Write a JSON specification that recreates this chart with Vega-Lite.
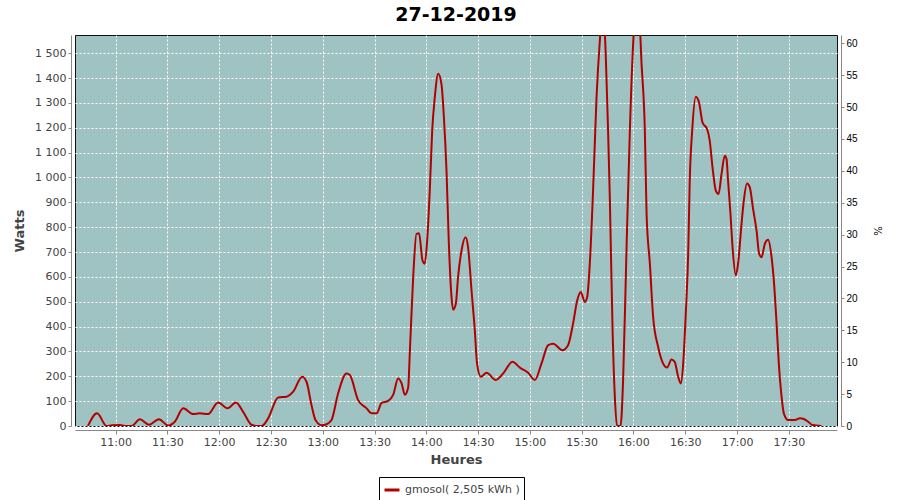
{
  "$schema": "https://vega.github.io/schema/vega-lite/v6.json",
  "width": 762,
  "height": 391,
  "autosize": {"type": "none"},
  "padding": {"left": 75, "top": 35, "right": 63, "bottom": 74},
  "background": "#ffffff",
  "title": {
    "text": "27-12-2019",
    "font": "DejaVu Sans",
    "fontSize": 19,
    "fontWeight": "bold",
    "color": "#000000",
    "anchor": "middle",
    "frame": "group",
    "offset": 7
  },
  "config": {
    "view": {"fill": "#9fc3c2", "stroke": "#111111", "strokeWidth": 1},
    "axis": {
      "labelFont": "DejaVu Sans",
      "titleFont": "DejaVu Sans",
      "labelColor": "#444444",
      "titleColor": "#444444",
      "domainColor": "#888888",
      "tickColor": "#888888",
      "gridColor": "#ffffff",
      "gridDash": [2, 2],
      "gridOpacity": 1,
      "gridWidth": 1
    }
  },
  "layer": [
    {
      "data": {
        "values": [
          {"t": "2019-12-27T10:44:00", "w": 0},
          {"t": "2019-12-27T10:49:18", "w": 51},
          {"t": "2019-12-27T10:54:48", "w": 0},
          {"t": "2019-12-27T10:57:54", "w": 3},
          {"t": "2019-12-27T11:02:30", "w": 4},
          {"t": "2019-12-27T11:05:24", "w": 0},
          {"t": "2019-12-27T11:09:18", "w": 0},
          {"t": "2019-12-27T11:14:06", "w": 27},
          {"t": "2019-12-27T11:19:18", "w": 5},
          {"t": "2019-12-27T11:25:06", "w": 27},
          {"t": "2019-12-27T11:30:30", "w": 2},
          {"t": "2019-12-27T11:34:18", "w": 17},
          {"t": "2019-12-27T11:39:12", "w": 71},
          {"t": "2019-12-27T11:44:54", "w": 48},
          {"t": "2019-12-27T11:48:48", "w": 51},
          {"t": "2019-12-27T11:53:36", "w": 48},
          {"t": "2019-12-27T11:59:24", "w": 95},
          {"t": "2019-12-27T12:04:54", "w": 71},
          {"t": "2019-12-27T12:09:42", "w": 95},
          {"t": "2019-12-27T12:13:54", "w": 57},
          {"t": "2019-12-27T12:18:48", "w": 5},
          {"t": "2019-12-27T12:22:24", "w": 0},
          {"t": "2019-12-27T12:24:42", "w": 0},
          {"t": "2019-12-27T12:28:24", "w": 31},
          {"t": "2019-12-27T12:34:12", "w": 115},
          {"t": "2019-12-27T12:39:00", "w": 118},
          {"t": "2019-12-27T12:42:54", "w": 138},
          {"t": "2019-12-27T12:48:06", "w": 198},
          {"t": "2019-12-27T12:50:36", "w": 178},
          {"t": "2019-12-27T12:53:30", "w": 84},
          {"t": "2019-12-27T12:55:48", "w": 24},
          {"t": "2019-12-27T12:59:18", "w": 3},
          {"t": "2019-12-27T13:02:12", "w": 7},
          {"t": "2019-12-27T13:05:06", "w": 24},
          {"t": "2019-12-27T13:08:54", "w": 131},
          {"t": "2019-12-27T13:13:48", "w": 211},
          {"t": "2019-12-27T13:15:42", "w": 205},
          {"t": "2019-12-27T13:20:30", "w": 104},
          {"t": "2019-12-27T13:25:24", "w": 71},
          {"t": "2019-12-27T13:28:18", "w": 51},
          {"t": "2019-12-27T13:31:12", "w": 51},
          {"t": "2019-12-27T13:34:06", "w": 93},
          {"t": "2019-12-27T13:37:54", "w": 101},
          {"t": "2019-12-27T13:40:48", "w": 125},
          {"t": "2019-12-27T13:43:42", "w": 191},
          {"t": "2019-12-27T13:45:42", "w": 171},
          {"t": "2019-12-27T13:47:36", "w": 126},
          {"t": "2019-12-27T13:49:30", "w": 155},
          {"t": "2019-12-27T13:50:30", "w": 305},
          {"t": "2019-12-27T13:52:24", "w": 599},
          {"t": "2019-12-27T13:54:18", "w": 773},
          {"t": "2019-12-27T13:55:48", "w": 775},
          {"t": "2019-12-27T13:57:48", "w": 666},
          {"t": "2019-12-27T13:59:06", "w": 653},
          {"t": "2019-12-27T14:00:30", "w": 746},
          {"t": "2019-12-27T14:02:00", "w": 947},
          {"t": "2019-12-27T14:03:24", "w": 1187},
          {"t": "2019-12-27T14:04:54", "w": 1321},
          {"t": "2019-12-27T14:06:54", "w": 1417},
          {"t": "2019-12-27T14:08:48", "w": 1374},
          {"t": "2019-12-27T14:10:12", "w": 1240},
          {"t": "2019-12-27T14:11:42", "w": 1027},
          {"t": "2019-12-27T14:13:00", "w": 746},
          {"t": "2019-12-27T14:14:36", "w": 519},
          {"t": "2019-12-27T14:15:30", "w": 468},
          {"t": "2019-12-27T14:17:06", "w": 492},
          {"t": "2019-12-27T14:18:24", "w": 599},
          {"t": "2019-12-27T14:20:24", "w": 706},
          {"t": "2019-12-27T14:22:42", "w": 759},
          {"t": "2019-12-27T14:24:12", "w": 719},
          {"t": "2019-12-27T14:26:12", "w": 545},
          {"t": "2019-12-27T14:28:06", "w": 385},
          {"t": "2019-12-27T14:29:24", "w": 251},
          {"t": "2019-12-27T14:31:36", "w": 198},
          {"t": "2019-12-27T14:34:54", "w": 214},
          {"t": "2019-12-27T14:40:18", "w": 185},
          {"t": "2019-12-27T14:44:30", "w": 211},
          {"t": "2019-12-27T14:49:54", "w": 258},
          {"t": "2019-12-27T14:54:12", "w": 235},
          {"t": "2019-12-27T14:59:00", "w": 214},
          {"t": "2019-12-27T15:02:54", "w": 185},
          {"t": "2019-12-27T15:06:42", "w": 251},
          {"t": "2019-12-27T15:10:36", "w": 325},
          {"t": "2019-12-27T15:13:30", "w": 331},
          {"t": "2019-12-27T15:18:54", "w": 305},
          {"t": "2019-12-27T15:22:06", "w": 325},
          {"t": "2019-12-27T15:25:00", "w": 412},
          {"t": "2019-12-27T15:27:24", "w": 505},
          {"t": "2019-12-27T15:29:30", "w": 539},
          {"t": "2019-12-27T15:31:48", "w": 499},
          {"t": "2019-12-27T15:33:12", "w": 519},
          {"t": "2019-12-27T15:34:42", "w": 653},
          {"t": "2019-12-27T15:36:36", "w": 947},
          {"t": "2019-12-27T15:38:36", "w": 1321},
          {"t": "2019-12-27T15:40:30", "w": 1548},
          {"t": "2019-12-27T15:41:36", "w": 1640},
          {"t": "2019-12-27T15:42:48", "w": 1640},
          {"t": "2019-12-27T15:44:00", "w": 1481},
          {"t": "2019-12-27T15:45:18", "w": 1187},
          {"t": "2019-12-27T15:46:18", "w": 920},
          {"t": "2019-12-27T15:47:54", "w": 385},
          {"t": "2019-12-27T15:49:12", "w": 118},
          {"t": "2019-12-27T15:50:30", "w": 0},
          {"t": "2019-12-27T15:52:30", "w": 0},
          {"t": "2019-12-27T15:54:00", "w": 185},
          {"t": "2019-12-27T15:56:00", "w": 719},
          {"t": "2019-12-27T15:57:54", "w": 1187},
          {"t": "2019-12-27T15:59:48", "w": 1535},
          {"t": "2019-12-27T16:00:48", "w": 1640},
          {"t": "2019-12-27T16:03:18", "w": 1640},
          {"t": "2019-12-27T16:04:42", "w": 1455},
          {"t": "2019-12-27T16:06:36", "w": 1187},
          {"t": "2019-12-27T16:07:36", "w": 853},
          {"t": "2019-12-27T16:09:30", "w": 653},
          {"t": "2019-12-27T16:11:24", "w": 438},
          {"t": "2019-12-27T16:14:18", "w": 318},
          {"t": "2019-12-27T16:17:12", "w": 251},
          {"t": "2019-12-27T16:19:30", "w": 235},
          {"t": "2019-12-27T16:22:00", "w": 268},
          {"t": "2019-12-27T16:23:54", "w": 258},
          {"t": "2019-12-27T16:25:54", "w": 198},
          {"t": "2019-12-27T16:27:24", "w": 171},
          {"t": "2019-12-27T16:28:48", "w": 251},
          {"t": "2019-12-27T16:30:18", "w": 452},
          {"t": "2019-12-27T16:31:42", "w": 693},
          {"t": "2019-12-27T16:32:36", "w": 987},
          {"t": "2019-12-27T16:34:00", "w": 1187},
          {"t": "2019-12-27T16:36:06", "w": 1325},
          {"t": "2019-12-27T16:38:00", "w": 1301},
          {"t": "2019-12-27T16:40:00", "w": 1221},
          {"t": "2019-12-27T16:42:42", "w": 1194},
          {"t": "2019-12-27T16:44:12", "w": 1147},
          {"t": "2019-12-27T16:45:48", "w": 1040},
          {"t": "2019-12-27T16:47:42", "w": 947},
          {"t": "2019-12-27T16:49:18", "w": 933},
          {"t": "2019-12-27T16:51:00", "w": 1013},
          {"t": "2019-12-27T16:52:54", "w": 1087},
          {"t": "2019-12-27T16:53:54", "w": 1074},
          {"t": "2019-12-27T16:54:48", "w": 987},
          {"t": "2019-12-27T16:56:12", "w": 853},
          {"t": "2019-12-27T16:57:24", "w": 719},
          {"t": "2019-12-27T16:59:18", "w": 606},
          {"t": "2019-12-27T17:00:36", "w": 653},
          {"t": "2019-12-27T17:02:36", "w": 813},
          {"t": "2019-12-27T17:03:54", "w": 906},
          {"t": "2019-12-27T17:05:48", "w": 976},
          {"t": "2019-12-27T17:07:24", "w": 960},
          {"t": "2019-12-27T17:09:18", "w": 873},
          {"t": "2019-12-27T17:11:18", "w": 786},
          {"t": "2019-12-27T17:12:48", "w": 693},
          {"t": "2019-12-27T17:14:12", "w": 679},
          {"t": "2019-12-27T17:16:06", "w": 733},
          {"t": "2019-12-27T17:18:00", "w": 749},
          {"t": "2019-12-27T17:20:00", "w": 679},
          {"t": "2019-12-27T17:21:18", "w": 586},
          {"t": "2019-12-27T17:22:54", "w": 412},
          {"t": "2019-12-27T17:24:12", "w": 251},
          {"t": "2019-12-27T17:25:48", "w": 118},
          {"t": "2019-12-27T17:27:06", "w": 51},
          {"t": "2019-12-27T17:29:36", "w": 24},
          {"t": "2019-12-27T17:33:30", "w": 24},
          {"t": "2019-12-27T17:36:24", "w": 31},
          {"t": "2019-12-27T17:38:42", "w": 28},
          {"t": "2019-12-27T17:41:12", "w": 17},
          {"t": "2019-12-27T17:43:42", "w": 4},
          {"t": "2019-12-27T17:48:54", "w": 0}
        ]
      },
      "mark": {"type": "line", "clip": true, "strokeWidth": 2, "interpolate": "monotone"},
      "encoding": {
        "x": {
          "field": "t",
          "type": "temporal",
          "scale": {
            "domain": [
              {"year": 2019, "month": 12, "date": 27, "hours": 10, "minutes": 36, "seconds": 30},
              {"year": 2019, "month": 12, "date": 27, "hours": 17, "minutes": 57, "seconds": 54}
            ],
            "nice": false
          },
          "axis": {
            "title": "Heures",
            "titleFontSize": 13,
            "titleFontWeight": "bold",
            "titlePadding": 6,
            "labelFontSize": 11,
            "format": "%H:%M",
            "offset": 4,
            "tickSize": 4,
            "labelPadding": 2,
            "labelFlush": false,
            "values": [
              {"year": 2019, "month": 12, "date": 27, "hours": 11, "minutes": 0},
              {"year": 2019, "month": 12, "date": 27, "hours": 11, "minutes": 30},
              {"year": 2019, "month": 12, "date": 27, "hours": 12, "minutes": 0},
              {"year": 2019, "month": 12, "date": 27, "hours": 12, "minutes": 30},
              {"year": 2019, "month": 12, "date": 27, "hours": 13, "minutes": 0},
              {"year": 2019, "month": 12, "date": 27, "hours": 13, "minutes": 30},
              {"year": 2019, "month": 12, "date": 27, "hours": 14, "minutes": 0},
              {"year": 2019, "month": 12, "date": 27, "hours": 14, "minutes": 30},
              {"year": 2019, "month": 12, "date": 27, "hours": 15, "minutes": 0},
              {"year": 2019, "month": 12, "date": 27, "hours": 15, "minutes": 30},
              {"year": 2019, "month": 12, "date": 27, "hours": 16, "minutes": 0},
              {"year": 2019, "month": 12, "date": 27, "hours": 16, "minutes": 30},
              {"year": 2019, "month": 12, "date": 27, "hours": 17, "minutes": 0},
              {"year": 2019, "month": 12, "date": 27, "hours": 17, "minutes": 30}
            ]
          }
        },
        "y": {
          "field": "w",
          "type": "quantitative",
          "scale": {"domain": [0, 1573], "nice": false},
          "axis": {
            "title": "Watts",
            "titleFontSize": 13,
            "titleFontWeight": "bold",
            "titlePadding": 8,
            "labelFontSize": 11,
            "offset": 4,
            "tickSize": 3,
            "labelPadding": 2,
            "labelFlush": false,
            "values": [0, 100, 200, 300, 400, 500, 600, 700, 800, 900, 1000, 1100, 1200, 1300, 1400, 1500],
            "labelExpr": "replace(format(datum.value, ','), ',', ' ')"
          }
        },
        "color": {
          "datum": "gmosol( 2,505 kWh )",
          "type": "nominal",
          "scale": {"range": ["#b20000"]},
          "legend": {
            "title": null,
            "orient": "none",
            "legendX": 304,
            "legendY": 442,
            "symbolType": "stroke",
            "symbolSize": 225,
            "symbolStrokeWidth": 3,
            "labelFont": "DejaVu Sans",
            "labelFontSize": 11,
            "labelColor": "#444444",
            "strokeColor": "#000000",
            "padding": 4,
            "symbolOffset": 0,
            "labelOffset": 4
          }
        }
      }
    },
    {
      "data": {"values": [{"p": 0}, {"p": 61.3}]},
      "mark": {"type": "point", "opacity": 0},
      "encoding": {
        "y": {
          "field": "p",
          "type": "quantitative",
          "scale": {"domain": [0, 61.3], "nice": false},
          "axis": {
            "orient": "right",
            "title": "%",
            "titleFontSize": 10,
            "titleFontWeight": "normal",
            "titleColor": "#000000",
            "titlePadding": 14,
            "labelFont": "Liberation Sans",
            "labelFontSize": 10,
            "labelColor": "#000000",
            "offset": 4,
            "tickSize": 3,
            "labelPadding": 2,
            "labelFlush": false,
            "grid": false,
            "values": [0, 5, 10, 15, 20, 25, 30, 35, 40, 45, 50, 55, 60]
          }
        }
      }
    }
  ],
  "resolve": {"scale": {"y": "independent"}}
}
